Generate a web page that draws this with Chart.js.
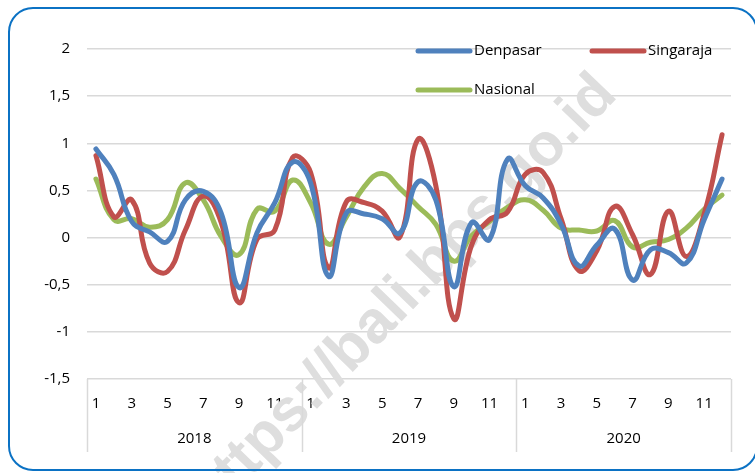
<!DOCTYPE html>
<html>
<head>
<meta charset="utf-8">
<script src="https://cdn.jsdelivr.net/npm/chart.js@4"></script>
<style>
  html, body { margin: 0; padding: 0; background: #ffffff; }
  #wrap { width: 755px; height: 473px; }
</style>
</head>
<body>
<div id="wrap"><canvas id="c" width="755" height="473"></canvas></div>
<script>
const years = ['2018', '2019', '2020'];
const months = ['1','2','3','4','5','6','7','8','9','10','11','12'];
const denpasar = [0.94, 0.67, 0.17, 0.06, -0.04, 0.40, 0.49, 0.26, -0.53, 0.05, 0.37, 0.80,
                  0.58, -0.41, 0.26, 0.25, 0.20, 0.05, 0.59, 0.40, -0.52, 0.16, -0.02, 0.83,
                  0.55, 0.42, 0.14, -0.30, -0.08, 0.09, -0.45, -0.13, -0.16, -0.27, 0.19, 0.62];
const singaraja = [0.87, 0.22, 0.40, -0.27, -0.36, 0.08, 0.44, 0.16, -0.69, -0.02, 0.08, 0.85,
                   0.69, -0.32, 0.38, 0.37, 0.28, 0.01, 1.04, 0.55, -0.86, -0.08, 0.19, 0.27,
                   0.67, 0.69, 0.20, -0.35, -0.14, 0.33, 0.03, -0.39, 0.28, -0.20, 0.25, 1.09];
const nasional = [0.62, 0.19, 0.20, 0.11, 0.19, 0.58, 0.40, 0.01, -0.18, 0.30, 0.28, 0.61,
                  0.37, -0.07, 0.22, 0.54, 0.68, 0.52, 0.33, 0.14, -0.25, 0.02, 0.17, 0.32,
                  0.40, 0.29, 0.10, 0.08, 0.07, 0.18, -0.10, -0.05, -0.02, 0.10, 0.30, 0.45];
const seriesNames = ['Denpasar', 'Singaraja', 'Nasional'];
const watermarkText = 'https://bali.bps.go.id';

const labels = [];
years.forEach(() => months.forEach(m => labels.push(m)));

const FONT = '"Open Sans", "Liberation Sans", sans-serif';
const colors = ['#4F81BD', '#C0504D', '#9BBB59'];

const decor = {
  id: 'decor',
  beforeDraw(chart) {
    const ctx = chart.ctx;
    ctx.save();
    ctx.fillStyle = '#ffffff';
    ctx.fillRect(0, 0, chart.width, chart.height);
    ctx.restore();
  },
  beforeDatasetsDraw(chart) {
    const ctx = chart.ctx;
    ctx.save();
    ctx.translate(403, 296);
    ctx.rotate(-46 * Math.PI / 180);
    ctx.font = 'bold 60px "Liberation Sans", Arial, sans-serif';
    ctx.fillStyle = '#DEDEDE';
    ctx.textAlign = 'center';
    ctx.textBaseline = 'middle';
    ctx.fillText(watermarkText, 0, 0);
    ctx.restore();
  },
  afterDraw(chart) {
    const ctx = chart.ctx;
    const a = chart.chartArea;
    // year group separators
    ctx.save();
    ctx.strokeStyle = '#D9D9D9';
    ctx.lineWidth = 1.5;
    const w = (a.right - a.left) / years.length;
    for (let k = 0; k <= years.length; k++) {
      const x = Math.round(a.left + k * w) + 0.5;
      ctx.beginPath();
      ctx.moveTo(x, a.bottom);
      ctx.lineTo(x, a.bottom + 73);
      ctx.stroke();
    }
    ctx.restore();
    // legend
    ctx.save();
    ctx.font = '15px ' + FONT;
    ctx.textBaseline = 'middle';
    ctx.fillStyle = '#000000';
    ctx.lineCap = 'round';
    ctx.lineWidth = 5;
    const items = [
      {x: 418, y: 51, i: 0},
      {x: 592, y: 51, i: 1},
      {x: 418, y: 90, i: 2}
    ];
    items.forEach(it => {
      ctx.strokeStyle = colors[it.i];
      ctx.beginPath();
      ctx.moveTo(it.x, it.y);
      ctx.lineTo(it.x + 52, it.y);
      ctx.stroke();
      ctx.fillText(seriesNames[it.i], it.x + 56, it.y);
    });
    ctx.restore();
    // rounded border
    ctx.save();
    ctx.strokeStyle = '#0B72C4';
    ctx.lineWidth = 2;
    ctx.beginPath();
    ctx.roundRect(9, 8, 748, 462, 24);
    ctx.stroke();
    ctx.restore();
  }
};

new Chart(document.getElementById('c'), {
  type: 'line',
  data: {
    labels: labels,
    datasets: [
      { label: seriesNames[0], data: denpasar, borderColor: colors[0] },
      { label: seriesNames[1], data: singaraja, borderColor: colors[1] },
      { label: seriesNames[2], data: nasional, borderColor: colors[2] }
    ].map(d => Object.assign(d, {
      borderWidth: 5,
      pointRadius: 0,
      pointHoverRadius: 0,
      tension: 0.45,
      fill: false,
      borderCapStyle: 'round',
      borderJoinStyle: 'round',
      xAxisID: 'x',
      yAxisID: 'y'
    }))
  },
  options: {
    responsive: false,
    animation: false,
    devicePixelRatio: 1,
    layout: { padding: { left: 10, right: 24, top: 49, bottom: 20 } },
    plugins: {
      legend: { display: false },
      tooltip: { enabled: false },
      title: { display: false }
    },
    scales: {
      y: {
        min: -1.5,
        max: 2,
        afterFit(scale) { scale.width = 77; },
        ticks: {
          stepSize: 0.5,
          padding: 17,
          color: '#000000',
          font: { family: FONT, size: 15 },
          callback: (v) => String(Math.round(v * 10) / 10).replace('.', ',')
        },
        grid: { color: '#D9D9D9', lineWidth: 1.5, drawTicks: false },
        border: { display: false }
      },
      x: {
        position: 'bottom',
        offset: true,
        afterFit(scale) { scale.height = 44; },
        ticks: {
          autoSkip: false,
          maxRotation: 0,
          padding: 16,
          color: '#000000',
          font: { family: FONT, size: 15 },
          callback: function (val) {
            const l = this.getLabelForValue(val);
            return (Number(l) % 2 === 1) ? l : '';
          }
        },
        grid: { display: false, drawTicks: false },
        border: { display: false }
      },
      x2: {
        type: 'category',
        position: 'bottom',
        labels: years,
        offset: true,
        afterFit(scale) { scale.height = 30; },
        ticks: {
          padding: 7,
          color: '#000000',
          font: { family: FONT, size: 15 }
        },
        grid: { display: false, drawTicks: false },
        border: { display: false }
      }
    }
  },
  plugins: [decor]
});
</script>
</body>
</html>
